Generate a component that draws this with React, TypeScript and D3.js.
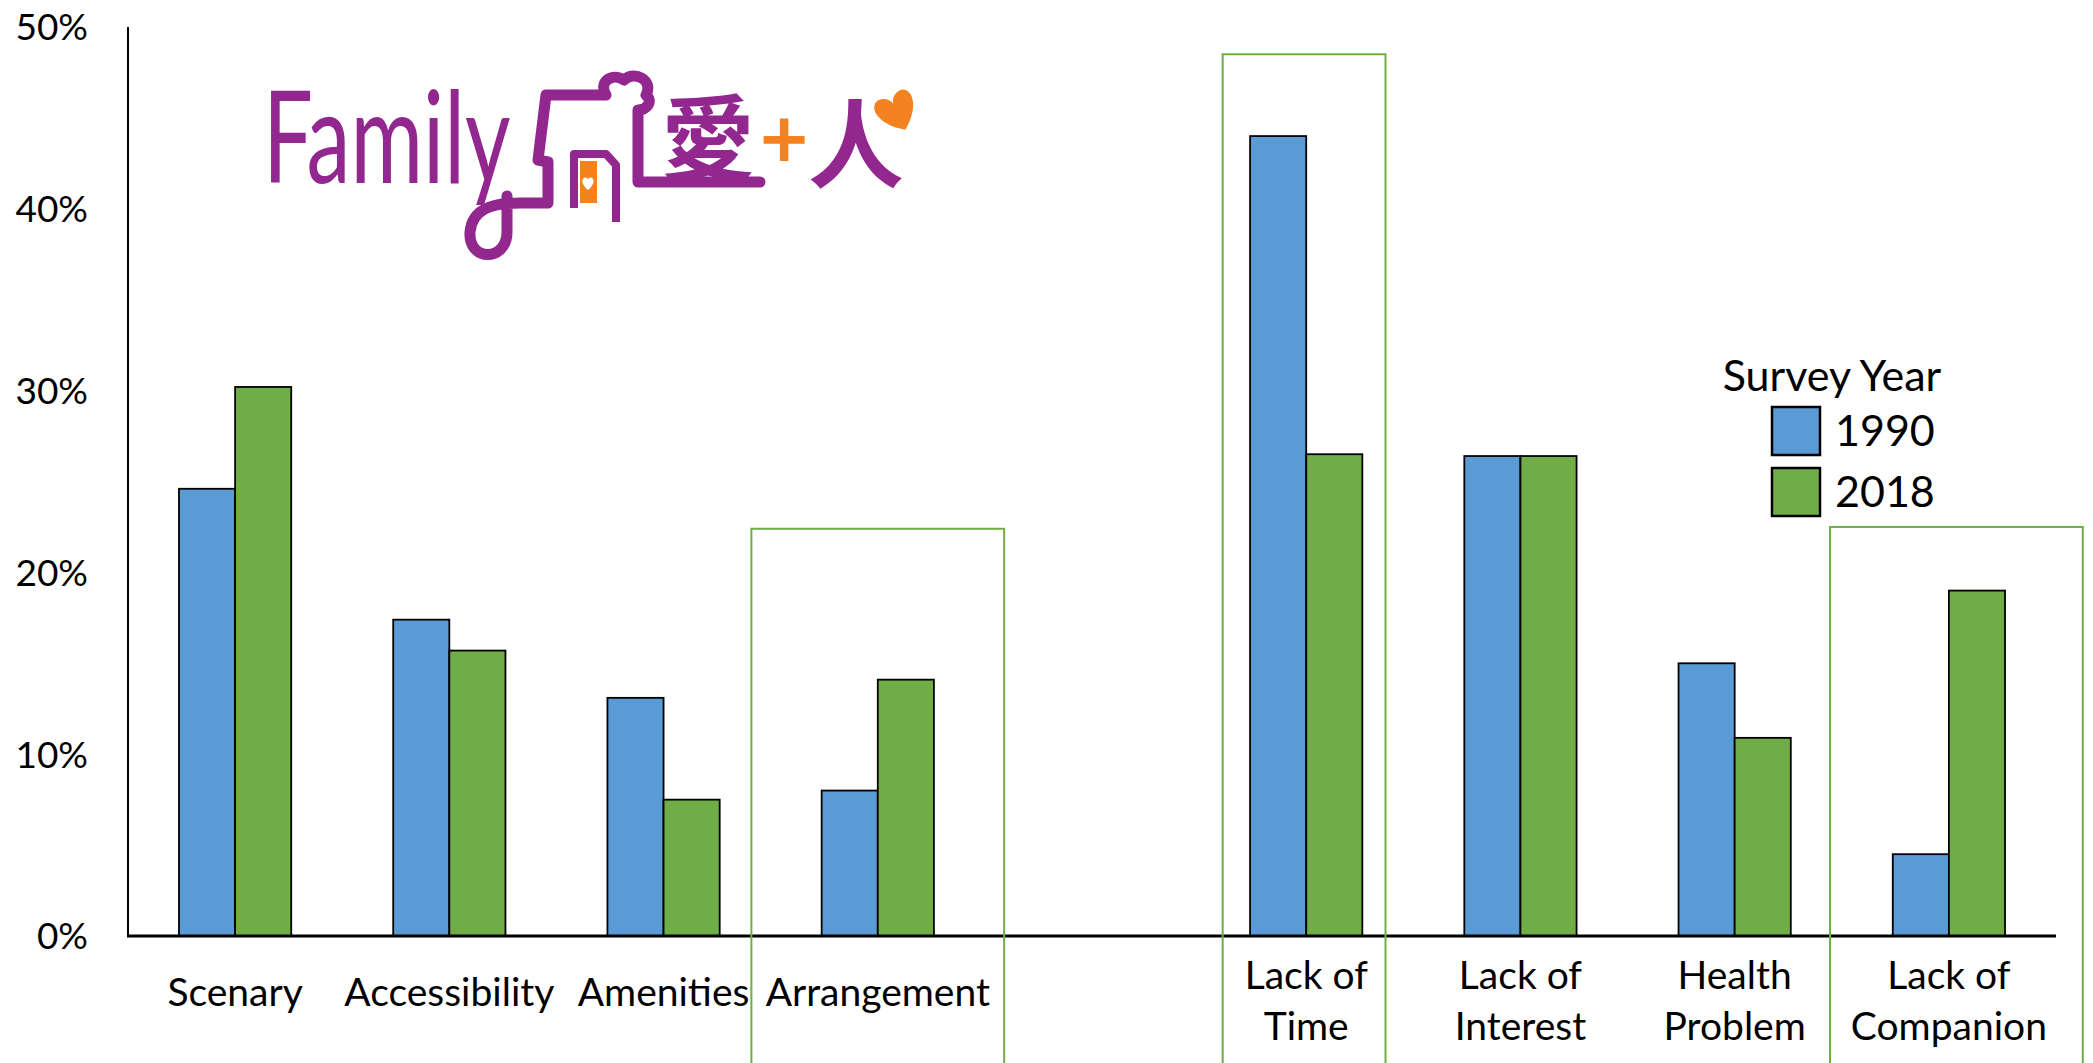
import * as d3 from 'd3';

const categories = ['Scenary', 'Accessibility', 'Amenities', 'Arrangement', 'Lack of Time', 'Lack of Interest', 'Health Problem', 'Lack of Companion'];
const labelLines = [['Scenary'], ['Accessibility'], ['Amenities'], ['Arrangement'], ['Lack of', 'Time'], ['Lack of', 'Interest'], ['Health', 'Problem'], ['Lack of', 'Companion']];
const series = ['1990', '2018'];
const values1990 = [0.246, 0.174, 0.131, 0.080, 0.440, 0.264, 0.150, 0.045];
const values2018 = [0.302, 0.157, 0.075, 0.141, 0.265, 0.264, 0.109, 0.190];
const yTicks = [0, 0.1, 0.2, 0.3, 0.4, 0.5];
// highlighted categories: top of frame (in axis units), width as share of the band, shift as share of the band
const highlights = [
  { cat: 'Arrangement', top: 0.224, span: 1.18, shift: 0 },
  { cat: 'Lack of Time', top: 0.485, span: 0.76, shift: -0.01 },
  { cat: 'Lack of Companion', top: 0.225, span: 1.18, shift: 0.035 },
];

const colors = { '1990': '#5b9bd5', '2018': '#70ad47' };
const W = 2093;
const H = 1063;
const font = 'Lato, "Noto Sans", sans-serif';
const cjk = '"Noto Sans CJK TC", "Noto Sans CJK SC", sans-serif';
const purple = '#92278f';
const orange = '#f58220';

// a gap slot sits between the two groups of reasons
const slots = [...categories.slice(0, 4), '__gap', ...categories.slice(4)];

function Logo() {
  return (
    <g>
      <text transform="translate(263,183) scale(0.98,1.42)" fontFamily={font} fontSize={90} fill={purple}>Family</text>
      <path d="M507 196 L507 232 C507 262 468 262 470 232 C472 210 490 203 520 203 L548 203 L548 162 L538 160 L546 95 L606 95 C598 82 612 72 624 80 C634 70 654 80 646 95 C654 102 646 110 638 110 L638 182 L760 182"
        fill="none" stroke={purple} strokeWidth={11} strokeLinejoin="round" strokeLinecap="round" />
      <path d="M574 208 L574 154 L606 154 L616 165 L616 222" fill="none" stroke={purple} strokeWidth={8} strokeLinejoin="round" />
      <rect x={580} y={161} width={17} height={42} fill={orange} />
      <path d="M588 190 C582 185 581 180 584 178 C586 177 588 178 588 180 C588 178 590 177 592 178 C595 180 594 185 588 190 Z" fill="#fff" />
      <text x={708} y={174} textAnchor="middle" fontFamily={cjk} fontWeight={700} fontSize={94} fill={purple}>愛</text>
      <text x={784} y={168} textAnchor="middle" fontFamily={font} fontWeight={700} fontSize={84} fill={orange}>+</text>
      <text x={856} y={180} textAnchor="middle" fontFamily={cjk} fontWeight={700} fontSize={96} fill={purple}>人</text>
      <path transform="translate(898,114) rotate(-25) scale(46)"
        d="M0 0.38 C-0.55 0 -0.5 -0.45 -0.25 -0.45 C-0.1 -0.45 0 -0.32 0 -0.22 C0 -0.32 0.1 -0.45 0.25 -0.45 C0.5 -0.45 0.55 0 0 0.38 Z" fill={orange} />
    </g>
  );
}

export default function App() {
  const x = d3.scaleBand<string>().domain(slots).range([128, 2056]).paddingInner(0).paddingOuter(0);
  const y = d3.scaleLinear().domain([0, 0.5]).range([936, 27]);
  const bw = x.bandwidth();
  const barW = bw * 0.262;
  const x1 = d3.scaleBand<string>().domain(series).range([(bw - 2 * barW) / 2, (bw + 2 * barW) / 2]);
  const valuesBySeries: Record<string, number[]> = { '1990': values1990, '2018': values2018 };
  const fmt = d3.format('.0%');

  return (
    <svg width={W} height={H} style={{ position: 'absolute', left: 0, top: 0, background: '#fff' }}>
      <rect width={W} height={H} fill="#fff" />
      <Logo />

      {yTicks.map(t => (
        <text key={t} x={88} y={y(t)} dy="0.36em" textAnchor="end" fontFamily={font} fontSize={37} fill="#000">{fmt(t)}</text>
      ))}

      {categories.map((c, i) => (
        <g key={c} transform={`translate(${x(c)},0)`}>
          {series.map(s => {
            const v = valuesBySeries[s][i];
            return (
              <rect key={s} x={x1(s)} y={y(v)} width={x1.bandwidth()} height={y(0) - y(v)}
                fill={colors[s as '1990' | '2018']} stroke="#000" strokeWidth={1.8} />
            );
          })}
        </g>
      ))}

      <line x1={128} x2={128} y1={y(0.5)} y2={y(0)} stroke="#000" strokeWidth={2} />
      <line x1={127} x2={2056} y1={y(0)} y2={y(0)} stroke="#000" strokeWidth={3} />

      {highlights.map(h => {
        const cx = (x(h.cat) as number) + bw / 2 + bw * h.shift;
        const w = bw * h.span;
        return (
          <rect key={h.cat} x={cx - w / 2} y={y(h.top)} width={w} height={H + 20 - y(h.top)}
            fill="none" stroke="#70ad47" strokeWidth={2} />
        );
      })}

      {categories.map((c, i) => {
        const lines = labelLines[i];
        const cx = (x(c) as number) + bw / 2;
        const startY = lines.length === 1 ? 992 : 975;
        return (
          <text key={c} x={cx} textAnchor="middle" fontFamily={font} fontSize={39} fill="#000">
            {lines.map((l, j) => (
              <tspan key={j} x={cx} y={startY + j * 51} dy="0.36em">{l}</tspan>
            ))}
          </text>
        );
      })}

      <g fontFamily={font} fill="#000">
        <text x={1832} y={376} dy="0.36em" textAnchor="middle" fontSize={43}>Survey Year</text>
        {series.map((s, i) => (
          <g key={s} transform={`translate(0,${i * 61})`}>
            <rect x={1772} y={407} width={48} height={48} fill={colors[s as '1990' | '2018']} stroke="#000" strokeWidth={2.5} />
            <text x={1835} y={431} dy="0.36em" fontSize={43}>{s}</text>
          </g>
        ))}
      </g>
    </svg>
  );
}
